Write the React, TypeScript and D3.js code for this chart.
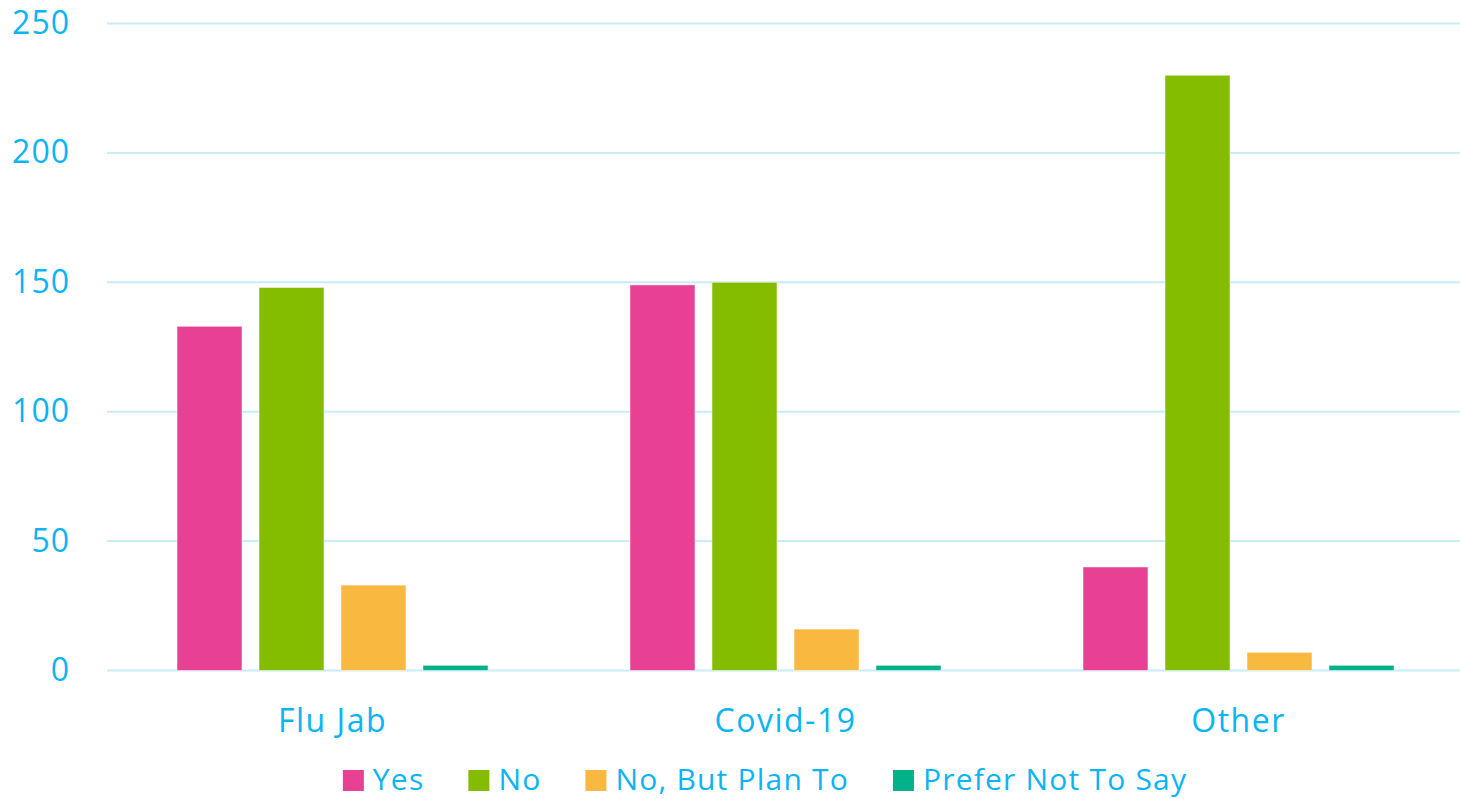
import React, { useEffect, useRef } from "react";
import * as d3 from "d3";

const categories = ["Flu Jab", "Covid-19", "Other"];
const seriesNames = ["Yes", "No", "No, But Plan To", "Prefer Not To Say"];
const seriesColors = ["#E84093", "#84BD00", "#F9B940", "#00B189"];
const yesValues = [133, 149, 40];
const noValues = [148, 150, 230];
const planValues = [33, 16, 7];
const preferValues = [2, 2, 2];
const yTicks = [0, 50, 100, 150, 200, 250];

const W = 1460;
const H = 799;
const FONT = "'Open Sans', 'Noto Sans', sans-serif";
const TEXT_COLOR = "#0BB4F2";
const GRID_COLOR = "#C8ECFA";

export default function App() {
  const ref = useRef<SVGSVGElement | null>(null);

  useEffect(() => {
    const svg = d3.select(ref.current);
    svg.selectAll("*").remove();

    const seriesValues = [yesValues, noValues, planValues, preferValues];

    const y = d3.scaleLinear().domain([0, 250]).range([670.5, 23.5]);
    const x0 = d3.scaleBand<string>().domain(categories).range([106, 1465]).padding(0);
    const groupW = 311;
    const x1 = d3
      .scaleBand<string>()
      .domain(seriesNames)
      .range([0, groupW])
      .paddingInner(17 / 82)
      .paddingOuter(0);

    // gridlines
    svg
      .append("g")
      .selectAll("line")
      .data(yTicks)
      .join("line")
      .attr("x1", 107)
      .attr("x2", W)
      .attr("y1", (d) => y(d))
      .attr("y2", (d) => y(d))
      .attr("stroke", GRID_COLOR)
      .attr("stroke-width", 2);

    // y tick labels
    svg
      .append("g")
      .selectAll("text")
      .data(yTicks)
      .join("text")
      .attr("x", 70)
      .attr("y", (d) => y(d) - 2)
      .attr("text-anchor", "end")
      .attr("dominant-baseline", "central")
      .attr("font-family", FONT)
      .attr("font-size", 32)
      .attr("letter-spacing", 1)
      .attr("fill", TEXT_COLOR)
      .text((d) => String(d));

    // bars
    const groups = svg
      .append("g")
      .selectAll("g")
      .data(categories)
      .join("g")
      .attr("transform", (c) => `translate(${(x0(c) ?? 0) + (x0.bandwidth() - groupW) / 2},0)`);

    groups
      .selectAll("rect")
      .data((c, ci) =>
        seriesNames.map((s, si) => ({ s, v: seriesValues[si][ci], color: seriesColors[si] }))
      )
      .join("rect")
      .attr("x", (d) => x1(d.s) ?? 0)
      .attr("width", x1.bandwidth())
      .attr("y", (d) => y(d.v))
      .attr("height", (d) => y(0) - y(d.v))
      .attr("fill", (d) => d.color)
      .attr("stroke", "rgba(255,255,255,0.5)")
      .attr("stroke-width", 1);

    // x labels
    svg
      .append("g")
      .selectAll("text")
      .data(categories)
      .join("text")
      .attr("x", (c) => (x0(c) ?? 0) + x0.bandwidth() / 2)
      .attr("y", 732)
      .attr("text-anchor", "middle")
      .attr("font-family", FONT)
      .attr("font-size", 32)
      .attr("letter-spacing", 1.5)
      .attr("fill", TEXT_COLOR)
      .text((c) => c);

    // legend
    const legend = svg.append("g");
    const items = legend
      .selectAll("g")
      .data(seriesNames)
      .join("g");
    items
      .append("rect")
      .attr("width", 21)
      .attr("height", 21)
      .attr("y", 770)
      .attr("fill", (_d, i) => seriesColors[i]);
    const texts = items
      .append("text")
      .attr("x", 30)
      .attr("y", 790)
      .attr("font-family", FONT)
      .attr("font-size", 30)
      .attr("letter-spacing", 1.2)
      .attr("fill", TEXT_COLOR)
      .text((d) => d);
    const widths: number[] = [];
    texts.each(function () {
      widths.push((this as SVGTextElement).getComputedTextLength());
    });
    const gap = 44;
    const itemW = widths.map((w) => 30 + w);
    const total = d3.sum(itemW) + gap * (itemW.length - 1);
    let cx = 765 - total / 2;
    items.attr("transform", (_d, i) => {
      const t = `translate(${cx},0)`;
      cx += itemW[i] + gap;
      return t;
    });
  }, []);

  return (
    <svg
      ref={ref}
      width={W}
      height={H}
      style={{ position: "absolute", left: 0, top: 0, background: "#fff" }}
    />
  );
}
